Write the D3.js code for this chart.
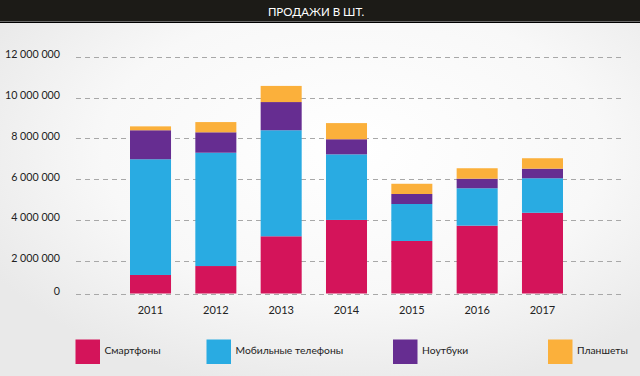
<!DOCTYPE html>
<html>
<head>
<meta charset="utf-8">
<script src="https://cdn.jsdelivr.net/npm/d3@7"></script>
<style>
  body { margin: 0; }
  svg { display: block; font-family: Lato, "Open Sans", sans-serif; }
</style>
</head>
<body>
<div id="chart"></div>
<script>
// data (units)
const years = ["2011", "2012", "2013", "2014", "2015", "2016", "2017"];
const smartphones = [1140000, 1690000, 3210000, 4010000, 2980000, 3730000, 4360000];
const mobiles = [5840000, 5610000, 5190000, 3210000, 1810000, 1830000, 1690000];
const notebooks = [1420000, 1000000, 1380000, 740000, 490000, 470000, 470000];
const tablets = [190000, 500000, 790000, 790000, 500000, 510000, 510000];
const seriesNames = ["Смартфоны", "Мобильные телефоны", "Ноутбуки", "Планшеты"];
const yTicks = [0, 2000000, 4000000, 6000000, 8000000, 10000000, 12000000];

const width = 640, height = 376;

const svg = d3.select("#chart")
    .append("svg")
    .attr("width", width)
    .attr("height", height);

// background
const defs = svg.append("defs");
const grad = defs.append("radialGradient")
    .attr("id", "bg")
    .attr("cx", "55%").attr("cy", "40%").attr("r", "65%");
grad.append("stop").attr("offset", "0%").attr("stop-color", "#ffffff");
grad.append("stop").attr("offset", "60%").attr("stop-color", "#f8f8f8");
grad.append("stop").attr("offset", "100%").attr("stop-color", "#e9e9e9");
svg.append("rect").attr("width", width).attr("height", height).attr("fill", "url(#bg)");

// title bar
svg.append("rect").attr("width", width).attr("height", 21).attr("fill", "#1c1b17");
svg.append("line").attr("x1", 0).attr("x2", width).attr("y1", 21.5).attr("y2", 21.5)
    .attr("stroke", "#6a6a6a");
svg.append("line").attr("x1", 0).attr("x2", width).attr("y1", 22.5).attr("y2", 22.5)
    .attr("stroke", "#000");
svg.append("text")
    .attr("x", 316).attr("y", 15.5)
    .attr("text-anchor", "middle")
    .attr("fill", "#fff")
    .style("font-size", "11.5px")
    .text("ПРОДАЖИ В ШТ.");

const table = years.map((y, i) => ({
    year: y,
    s0: smartphones[i], s1: mobiles[i], s2: notebooks[i], s3: tablets[i]
}));
const keys = ["s0", "s1", "s2", "s3"];
const colors = ["#d4145a", "#29abe2", "#662d91", "#fbb03b"];

// x scale
const x = d3.scaleBand()
    .domain(years)
    .range([117.85, 575.15])
    .paddingInner(0.372)
    .paddingOuter(0.186);

// y scale (the original's bottom step is shorter than the others)
const y = d3.scaleLinear()
    .domain([0, 2000000, 12000000])
    .range([293.5, 261, 56.7]);

const locale = d3.formatLocale({ decimal: ",", thousands: " ", grouping: [3], currency: ["", ""] });
const fmt = locale.format(",d");

// grid
svg.append("g")
    .selectAll("line")
    .data(yTicks)
    .join("line")
    .attr("x1", 76).attr("x2", 625)
    .attr("y1", d => Math.round(y(d)) + 0.5)
    .attr("y2", d => Math.round(y(d)) + 0.5)
    .attr("stroke", "#a8a8a8")
    .attr("stroke-dasharray", "5,4");

svg.append("g")
    .selectAll("text")
    .data(yTicks)
    .join("text")
    .attr("x", 60)
    .attr("y", d => y(d) - 2.5)
    .attr("dy", "0.35em")
    .attr("text-anchor", "end")
    .attr("fill", "#222")
    .style("font-size", "10.7px")
    .text(d => fmt(d));

// bars
const stacked = d3.stack().keys(keys)(table);
svg.append("g")
    .selectAll("g")
    .data(stacked)
    .join("g")
    .attr("fill", (d, i) => colors[i])
    .selectAll("rect")
    .data(d => d)
    .join("rect")
    .attr("x", d => x(d.data.year))
    .attr("y", d => y(d[1]))
    .attr("width", x.bandwidth())
    .attr("height", d => y(d[0]) - y(d[1]));

// x labels
svg.append("g")
    .selectAll("text")
    .data(years)
    .join("text")
    .attr("x", d => x(d) + x.bandwidth() / 2)
    .attr("y", 310.5)
    .attr("dy", "0.35em")
    .attr("text-anchor", "middle")
    .attr("fill", "#222")
    .style("font-size", "11px")
    .text(d => d);

// legend
const legendX = [75.5, 206.5, 393, 548];
const legend = svg.append("g")
    .selectAll("g")
    .data(seriesNames)
    .join("g")
    .attr("transform", (d, i) => `translate(${legendX[i]},339.5)`);
legend.append("rect")
    .attr("width", 24.5).attr("height", 24.5)
    .attr("fill", (d, i) => colors[i]);
legend.append("text")
    .attr("x", 29).attr("y", 11)
    .attr("dy", "0.35em")
    .attr("fill", "#222")
    .style("font-size", "10.3px")
    .text(d => d);
</script>
</body>
</html>
